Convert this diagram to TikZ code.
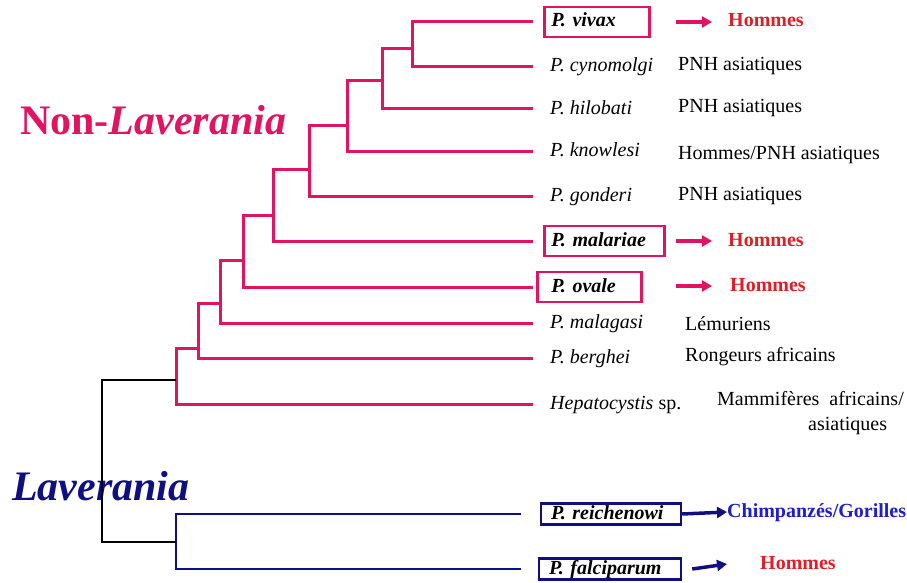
\documentclass[tikz,border=0pt]{standalone}
\usepackage{fontspec}
\setmainfont{Liberation Serif}
\usetikzlibrary{arrows.meta,positioning}

\definecolor{treepink}{RGB}{224,20,98}
\definecolor{hostred}{RGB}{222,30,40}
\definecolor{navy}{RGB}{15,15,130}
\definecolor{hostblue}{RGB}{30,30,205}

\begin{document}
\begin{tikzpicture}[x=1pt,y=-1pt]
    \tikzset{
      species/.style={anchor=west,inner xsep=7pt,inner ysep=6pt,text height=14pt,text depth=4pt,font=\fontsize{20}{24}\selectfont\itshape},
      pinkbox/.style={species,draw=treepink,line width=2.5pt,text width=#1,font=\fontsize{20}{24}\selectfont\bfseries\itshape},
      bluebox/.style={species,draw=navy,line width=2.2pt,inner ysep=1.5pt,text width=#1,font=\fontsize{20}{24}\selectfont\bfseries\itshape},
      host/.style={anchor=west,inner sep=0pt,text height=14pt,text depth=4pt,font=\fontsize{20}{24}\selectfont},
      hostblock/.style={anchor=north west,inner sep=0pt,align=left,font=\fontsize{20}{25}\selectfont},
      hostbold/.style={host,font=\fontsize{20}{24}\selectfont\bfseries,text=#1},
      pinkline/.style={draw=treepink,line width=3pt},
      blueline/.style={draw=navy,line width=1.6pt},
      rootline/.style={draw=black,line width=1.5pt},
      pinkarrow/.style={-{Triangle[length=10pt,width=11pt]},draw=treepink,fill=treepink,line width=4pt},
      bluearrow/.style={-{Triangle[length=10pt,width=11pt]},draw=navy,fill=navy,line width=3.5pt},
      grouplabel/.style={anchor=base west,inner sep=0pt,font=\fontsize{42}{46}\selectfont\bfseries,text=#1}
    }
    \useasboundingbox (0,0) rectangle (907,583);

    % group labels
    \node[grouplabel=treepink](nonlav) at (20,135){Non-\textit{Laverania}};
    \node[grouplabel=navy](lav) at (12,500){\textit{Laverania}};

    % species
    \node[pinkbox=91pt](vivax) at (543,22){P. vivax};
    \node[species](cynomolgi) at (543,67){P. cynomolgi};
    \node[species](hilobati) at (543,109){P. hilobati};
    \node[species](knowlesi) at (543,151){P. knowlesi};
    \node[species](gonderi) at (543,196){P. gonderi};
    \node[pinkbox=106pt](malariae) at (543,241){P. malariae};
    \node[pinkbox=76pt,inner xsep=14pt](ovale) at (536,287){P. ovale};
    \node[species](malagasi) at (543,323){P. malagasi};
    \node[species](berghei) at (543,358){P. berghei};
    \node[species](hepato) at (543,404){Hepatocystis \upshape sp.};
    \node[bluebox=120pt,inner xsep=10pt](reichenowi) at (540,514){P. reichenowi};
    \node[bluebox=122pt,inner xsep=10pt](falciparum) at (538,569){P. falciparum};

    % hosts
    \node[hostbold=hostred](hvivax) at (728,22){Hommes};
    \node[host](hcynomolgi) at (678,66){PNH asiatiques};
    \node[host](hhilobati) at (678,108){PNH asiatiques};
    \node[host](hknowlesi) at (678,154){Hommes/PNH asiatiques};
    \node[host](hgonderi) at (678,195){PNH asiatiques};
    \node[hostbold=hostred](hmalariae) at (728,241){Hommes};
    \node[hostbold=hostred](hovale) at (730,286){Hommes};
    \node[host](hmalagasi) at (685,325){Lémuriens};
    \node[host](hberghei) at (685,356){Rongeurs africains};
    \node[hostblock](hhepato) at (717,391){Mammifères\ \ africains/\\\hspace*{91pt}asiatiques};
    \node[hostbold=hostblue](hreichenowi) at (727,512){Chimpanzés/Gorilles};
    \node[hostbold=hostred](hfalciparum) at (760,564){Hommes};

    % tree
    \coordinate (pe) at (533,0);
    \coordinate (be) at (521,0);
    \coordinate (a1) at (412,49);
    \coordinate (a2) at (382,81);
    \coordinate (a3) at (347,126);
    \coordinate (a4) at (309,169);
    \coordinate (a5) at (273,215);
    \coordinate (a6) at (243,260);
    \coordinate (a7) at (220,303);
    \coordinate (a8) at (198,348);
    \coordinate (a9) at (176,380);
    \coordinate (b1) at (176,542);
    \coordinate (root) at (102,460);

    \draw[pinkline](pe |- vivax) -| (a1) |- (pe |- cynomolgi);
    \draw[pinkline](a1) -| (a2) |- (pe |- hilobati);
    \draw[pinkline](a2) -| (a3) |- (pe |- knowlesi);
    \draw[pinkline](a3) -| (a4) |- (pe |- gonderi);
    \draw[pinkline](a4) -| (a5) |- (pe |- malariae);
    \draw[pinkline](a5) -| (a6) |- (pe |- ovale);
    \draw[pinkline](a6) -| (a7) |- (pe |- malagasi);
    \draw[pinkline](a7) -| (a8) |- (pe |- berghei);
    \draw[pinkline](a8) -| (a9) |- (pe |- hepato);
    \draw[blueline](be |- reichenowi) -| (b1) |- (be |- falciparum);
    \draw[rootline](a9) -| (root) |- (b1);

    % host arrows
    \draw[pinkarrow]([xshift=-52pt]hvivax.west) -- ([xshift=-16pt]hvivax.west);
    \draw[pinkarrow]([xshift=-52pt]hmalariae.west) -- ([xshift=-16pt]hmalariae.west);
    \draw[pinkarrow]([xshift=-54pt]hovale.west) -- ([xshift=-18pt]hovale.west);
    \draw[bluearrow](reichenowi.east) -- (hreichenowi.west);
    \draw[bluearrow]([xshift=10pt]falciparum.east) -- ([xshift=-33pt]hfalciparum.west);
\end{tikzpicture}
\end{document}
